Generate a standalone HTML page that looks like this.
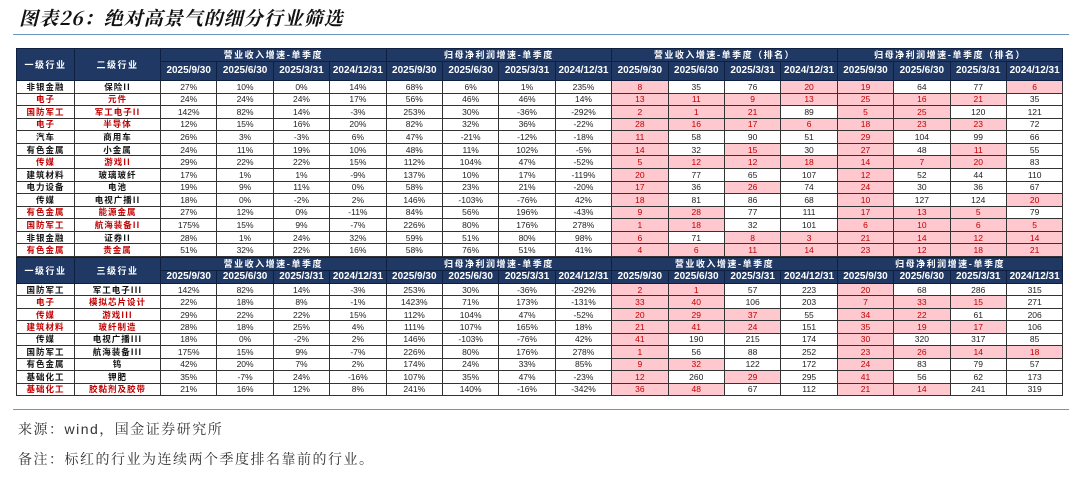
<!DOCTYPE html>
<html><head><meta charset="utf-8"><style>
*{margin:0;padding:0;box-sizing:border-box}
body{width:1080px;height:482px;background:#fff;position:relative;overflow:hidden;font-family:"Liberation Sans","Noto Sans CJK SC",sans-serif}
.title{position:absolute;left:19px;top:4px;font-family:"Noto Serif CJK SC","WenQuanYi Zen Hei",serif;font-size:19px;font-weight:bold;font-style:italic;color:#111;letter-spacing:1px}
.line{position:absolute;left:13px;width:1056px;height:1px;background:#6e96b8}
table{position:absolute;left:16px;width:1047px;border-collapse:collapse;table-layout:fixed;border:1.5px solid #888}
td,th{border:1px solid #333;text-align:center;vertical-align:middle;font-size:8.5px;color:#222;overflow:hidden;white-space:nowrap;line-height:10px;padding:0}
th{background:#1f3864;color:#fff;font-weight:bold;border-color:#0f1f40}
th.d{font-size:10px;font-weight:bold}
th.g{font-family:"Noto Sans CJK SC","Liberation Sans",sans-serif;font-size:9px;letter-spacing:1.5px}
td.c{font-family:"Noto Sans CJK SC",sans-serif;font-weight:bold;font-size:8.5px;color:#111;letter-spacing:1px}
tr.r td.c{color:#c00000}
td.p{background:#ffc7ce;color:#c00000}
.t1 tr.b{height:12.57px}
.t2 tr.b{height:12.45px}
.foot{position:absolute;left:18px;font-size:14px;color:#333;font-family:"Liberation Sans","Noto Serif CJK SC",serif;letter-spacing:1.5px}
</style></head><body>
<div class="title">图表26：绝对高景气的细分行业筛选</div>
<div class="line" style="top:34px"></div>

<table class="t1" style="top:48px">
<colgroup><col style="width:58px"><col style="width:86px"><col span="16" style="width:56.4px"></colgroup>
<tr style="height:13px"><th rowspan="2" class="g">一级行业</th><th rowspan="2" class="g">二级行业</th><th colspan="4" class="g">营业收入增速-单季度</th><th colspan="4" class="g">归母净利润增速-单季度</th><th colspan="4" class="g">营业收入增速-单季度（排名）</th><th colspan="4" class="g">归母净利润增速-单季度（排名）</th></tr>
<tr style="height:19px"><th class="d">2025/9/30</th><th class="d">2025/6/30</th><th class="d">2025/3/31</th><th class="d">2024/12/31</th><th class="d">2025/9/30</th><th class="d">2025/6/30</th><th class="d">2025/3/31</th><th class="d">2024/12/31</th><th class="d">2025/9/30</th><th class="d">2025/6/30</th><th class="d">2025/3/31</th><th class="d">2024/12/31</th><th class="d">2025/9/30</th><th class="d">2025/6/30</th><th class="d">2025/3/31</th><th class="d">2024/12/31</th></tr>
<tr class="b"><td class="c">非银金融</td><td class="c">保险II</td><td>27%</td><td>10%</td><td>0%</td><td>14%</td><td>68%</td><td>6%</td><td>1%</td><td>235%</td><td class="p">8</td><td>35</td><td>76</td><td class="p">20</td><td class="p">19</td><td>64</td><td>77</td><td class="p">6</td></tr>
<tr class="b r"><td class="c">电子</td><td class="c">元件</td><td>24%</td><td>24%</td><td>24%</td><td>17%</td><td>56%</td><td>46%</td><td>46%</td><td>14%</td><td class="p">13</td><td class="p">11</td><td class="p">9</td><td class="p">13</td><td class="p">25</td><td class="p">16</td><td class="p">21</td><td>35</td></tr>
<tr class="b r"><td class="c">国防军工</td><td class="c">军工电子II</td><td>142%</td><td>82%</td><td>14%</td><td>-3%</td><td>253%</td><td>30%</td><td>-36%</td><td>-292%</td><td class="p">2</td><td class="p">1</td><td class="p">21</td><td>89</td><td class="p">5</td><td class="p">25</td><td>120</td><td>121</td></tr>
<tr class="b r"><td class="c">电子</td><td class="c">半导体</td><td>12%</td><td>15%</td><td>16%</td><td>20%</td><td>82%</td><td>32%</td><td>36%</td><td>-22%</td><td class="p">28</td><td class="p">16</td><td class="p">17</td><td class="p">6</td><td class="p">18</td><td class="p">23</td><td class="p">23</td><td>72</td></tr>
<tr class="b"><td class="c">汽车</td><td class="c">商用车</td><td>26%</td><td>3%</td><td>-3%</td><td>6%</td><td>47%</td><td>-21%</td><td>-12%</td><td>-18%</td><td class="p">11</td><td>58</td><td>90</td><td>51</td><td class="p">29</td><td>104</td><td>99</td><td>66</td></tr>
<tr class="b"><td class="c">有色金属</td><td class="c">小金属</td><td>24%</td><td>11%</td><td>19%</td><td>10%</td><td>48%</td><td>11%</td><td>102%</td><td>-5%</td><td class="p">14</td><td>32</td><td class="p">15</td><td>30</td><td class="p">27</td><td>48</td><td class="p">11</td><td>55</td></tr>
<tr class="b r"><td class="c">传媒</td><td class="c">游戏II</td><td>29%</td><td>22%</td><td>22%</td><td>15%</td><td>112%</td><td>104%</td><td>47%</td><td>-52%</td><td class="p">5</td><td class="p">12</td><td class="p">12</td><td class="p">18</td><td class="p">14</td><td class="p">7</td><td class="p">20</td><td>83</td></tr>
<tr class="b"><td class="c">建筑材料</td><td class="c">玻璃玻纤</td><td>17%</td><td>1%</td><td>1%</td><td>-9%</td><td>137%</td><td>10%</td><td>17%</td><td>-119%</td><td class="p">20</td><td>77</td><td>65</td><td>107</td><td class="p">12</td><td>52</td><td>44</td><td>110</td></tr>
<tr class="b"><td class="c">电力设备</td><td class="c">电池</td><td>19%</td><td>9%</td><td>11%</td><td>0%</td><td>58%</td><td>23%</td><td>21%</td><td>-20%</td><td class="p">17</td><td>36</td><td class="p">26</td><td>74</td><td class="p">24</td><td>30</td><td>36</td><td>67</td></tr>
<tr class="b"><td class="c">传媒</td><td class="c">电视广播II</td><td>18%</td><td>0%</td><td>-2%</td><td>2%</td><td>146%</td><td>-103%</td><td>-76%</td><td>42%</td><td class="p">18</td><td>81</td><td>86</td><td>68</td><td class="p">10</td><td>127</td><td>124</td><td class="p">20</td></tr>
<tr class="b r"><td class="c">有色金属</td><td class="c">能源金属</td><td>27%</td><td>12%</td><td>0%</td><td>-11%</td><td>84%</td><td>56%</td><td>196%</td><td>-43%</td><td class="p">9</td><td class="p">28</td><td>77</td><td>111</td><td class="p">17</td><td class="p">13</td><td class="p">5</td><td>79</td></tr>
<tr class="b r"><td class="c">国防军工</td><td class="c">航海装备II</td><td>175%</td><td>15%</td><td>9%</td><td>-7%</td><td>226%</td><td>80%</td><td>176%</td><td>278%</td><td class="p">1</td><td class="p">18</td><td>32</td><td>101</td><td class="p">6</td><td class="p">10</td><td class="p">6</td><td class="p">5</td></tr>
<tr class="b"><td class="c">非银金融</td><td class="c">证券II</td><td>28%</td><td>1%</td><td>24%</td><td>32%</td><td>59%</td><td>51%</td><td>80%</td><td>98%</td><td class="p">6</td><td>71</td><td class="p">8</td><td class="p">3</td><td class="p">21</td><td class="p">14</td><td class="p">12</td><td class="p">14</td></tr>
<tr class="b r"><td class="c">有色金属</td><td class="c">贵金属</td><td>51%</td><td>32%</td><td>22%</td><td>16%</td><td>58%</td><td>76%</td><td>51%</td><td>41%</td><td class="p">4</td><td class="p">6</td><td class="p">11</td><td class="p">14</td><td class="p">23</td><td class="p">12</td><td class="p">18</td><td class="p">21</td></tr>
</table>

<table class="t2" style="top:257px">
<colgroup><col style="width:58px"><col style="width:86px"><col span="16" style="width:56.4px"></colgroup>
<tr style="height:13px"><th rowspan="2" class="g">一级行业</th><th rowspan="2" class="g">三级行业</th><th colspan="4" class="g">营业收入增速-单季度</th><th colspan="4" class="g">归母净利润增速-单季度</th><th colspan="4" class="g">营业收入增速-单季度</th><th colspan="4" class="g">归母净利润增速-单季度</th></tr>
<tr style="height:13px"><th class="d">2025/9/30</th><th class="d">2025/6/30</th><th class="d">2025/3/31</th><th class="d">2024/12/31</th><th class="d">2025/9/30</th><th class="d">2025/6/30</th><th class="d">2025/3/31</th><th class="d">2024/12/31</th><th class="d">2025/9/30</th><th class="d">2025/6/30</th><th class="d">2025/3/31</th><th class="d">2024/12/31</th><th class="d">2025/9/30</th><th class="d">2025/6/30</th><th class="d">2025/3/31</th><th class="d">2024/12/31</th></tr>
<tr class="b"><td class="c">国防军工</td><td class="c">军工电子III</td><td>142%</td><td>82%</td><td>14%</td><td>-3%</td><td>253%</td><td>30%</td><td>-36%</td><td>-292%</td><td class="p">2</td><td class="p">1</td><td>57</td><td>223</td><td class="p">20</td><td>68</td><td>286</td><td>315</td></tr>
<tr class="b r"><td class="c">电子</td><td class="c">模拟芯片设计</td><td>22%</td><td>18%</td><td>8%</td><td>-1%</td><td>1423%</td><td>71%</td><td>173%</td><td>-131%</td><td class="p">33</td><td class="p">40</td><td>106</td><td>203</td><td class="p">7</td><td class="p">33</td><td class="p">15</td><td>271</td></tr>
<tr class="b r"><td class="c">传媒</td><td class="c">游戏III</td><td>29%</td><td>22%</td><td>22%</td><td>15%</td><td>112%</td><td>104%</td><td>47%</td><td>-52%</td><td class="p">20</td><td class="p">29</td><td class="p">37</td><td>55</td><td class="p">34</td><td class="p">22</td><td>61</td><td>206</td></tr>
<tr class="b r"><td class="c">建筑材料</td><td class="c">玻纤制造</td><td>28%</td><td>18%</td><td>25%</td><td>4%</td><td>111%</td><td>107%</td><td>165%</td><td>18%</td><td class="p">21</td><td class="p">41</td><td class="p">24</td><td>151</td><td class="p">35</td><td class="p">19</td><td class="p">17</td><td>106</td></tr>
<tr class="b"><td class="c">传媒</td><td class="c">电视广播III</td><td>18%</td><td>0%</td><td>-2%</td><td>2%</td><td>146%</td><td>-103%</td><td>-76%</td><td>42%</td><td class="p">41</td><td>190</td><td>215</td><td>174</td><td class="p">30</td><td>320</td><td>317</td><td>85</td></tr>
<tr class="b"><td class="c">国防军工</td><td class="c">航海装备III</td><td>175%</td><td>15%</td><td>9%</td><td>-7%</td><td>226%</td><td>80%</td><td>176%</td><td>278%</td><td class="p">1</td><td>56</td><td>88</td><td>252</td><td class="p">23</td><td class="p">26</td><td class="p">14</td><td class="p">18</td></tr>
<tr class="b"><td class="c">有色金属</td><td class="c">钨</td><td>42%</td><td>20%</td><td>7%</td><td>2%</td><td>174%</td><td>24%</td><td>33%</td><td>85%</td><td class="p">9</td><td class="p">32</td><td>122</td><td>172</td><td class="p">24</td><td>83</td><td>79</td><td>57</td></tr>
<tr class="b"><td class="c">基础化工</td><td class="c">钾肥</td><td>35%</td><td>-7%</td><td>24%</td><td>-16%</td><td>107%</td><td>35%</td><td>47%</td><td>-23%</td><td class="p">12</td><td>260</td><td class="p">29</td><td>295</td><td class="p">41</td><td>56</td><td>62</td><td>173</td></tr>
<tr class="b r"><td class="c">基础化工</td><td class="c">胶黏剂及胶带</td><td>21%</td><td>16%</td><td>12%</td><td>8%</td><td>241%</td><td>140%</td><td>-16%</td><td>-342%</td><td class="p">36</td><td class="p">48</td><td>67</td><td>112</td><td class="p">21</td><td class="p">14</td><td>241</td><td>319</td></tr>
</table>

<div class="line" style="top:409px"></div>
<div class="foot" style="top:419px">来源：wind，国金证券研究所</div>
<div class="foot" style="top:449px">备注：标红的行业为连续两个季度排名靠前的行业。</div>
</body></html>
